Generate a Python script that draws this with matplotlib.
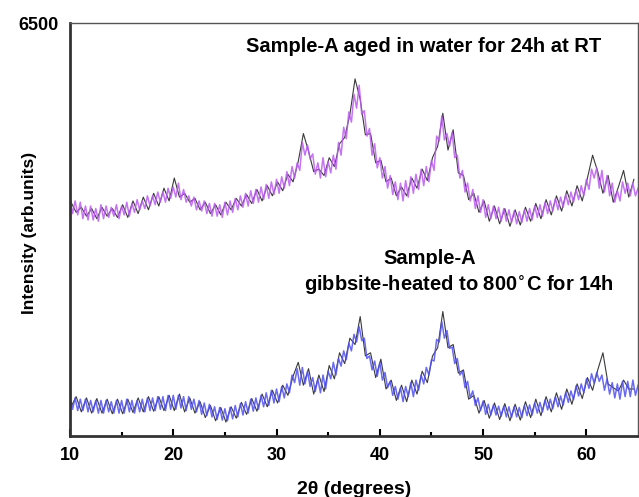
import matplotlib.pyplot as plt
import numpy as np

plt.rcParams['font.family'] = ['Liberation Sans', 'DejaVu Sans']
plt.rcParams['font.weight'] = 'bold'

# 2theta grids: coloured scans every 0.25 deg, grey scans every 0.5 deg
theta_fine = np.arange(10, 65.01, 0.25)
theta_coarse = np.arange(10.1, 65, 0.5)

# aged in water (top), coloured scan
aged_color = [
    3760, 3500, 3700, 3480, 3680, 3420, 3620, 3400, 3620, 3400, 3580, 3380,
    3640, 3420, 3620, 3440, 3600, 3460, 3640, 3420, 3620, 3480, 3680, 3460,
    3660, 3520, 3720, 3560, 3700, 3580, 3780, 3620, 3780, 3640, 3840, 3680,
    3840, 3680, 3900, 3740, 3920, 3760, 3980, 3720, 3880, 3680, 3780, 3620,
    3760, 3560, 3700, 3540, 3700, 3500, 3660, 3460, 3660, 3460, 3640, 3440,
    3680, 3480, 3700, 3520, 3740, 3560, 3780, 3600, 3820, 3620, 3860, 3660,
    3880, 3680, 3920, 3720, 3960, 3740, 4000, 3800, 4040, 3820, 4080, 3900,
    4160, 3940, 4240, 4060, 4300, 4180, 4620, 4420, 4580, 4360, 4440, 4120,
    4300, 4060, 4380, 4080, 4320, 4140, 4420, 4200, 4620, 4420, 4860, 4680,
    5100, 4940, 5380, 5160, 5520, 5060, 5120, 4720, 4840, 4420, 4600, 4220,
    4380, 4060, 4240, 3900, 4100, 3800, 4000, 3720, 3980, 3700, 4020, 3760,
    4080, 3820, 4120, 3880, 4200, 3940, 4240, 4000, 4340, 4180, 4720, 4640,
    5040, 4660, 4760, 4560, 4780, 4380, 4420, 4060, 4180, 3840, 3980, 3700,
    3880, 3580, 3780, 3520, 3720, 3440, 3640, 3420, 3620, 3420, 3600, 3380,
    3580, 3380, 3560, 3360, 3540, 3340, 3530, 3360, 3560, 3380, 3580, 3400,
    3620, 3440, 3640, 3460, 3680, 3500, 3700, 3540, 3740, 3560, 3760, 3600,
    3800, 3640, 3840, 3680, 3880, 3720, 3940, 3780, 4040, 3880, 4200, 4060,
    4220, 3900, 4180, 3840, 4100, 3780, 3980, 3680, 3860, 3700, 4000, 3820,
    3980, 3780, 3980, 3780, 3900,
]

# aged in water (top), grey scan
aged_grey = [
    3680, 3520, 3600, 3460, 3580, 3420, 3600, 3460, 3580, 3440,
    3640, 3440, 3700, 3500, 3760, 3560, 3820, 3620, 3900, 3700,
    4060, 3760, 3820, 3680, 3740, 3560, 3680, 3500, 3640, 3480,
    3680, 3560, 3740, 3620, 3800, 3660, 3880, 3700, 3940, 3780,
    4000, 3860, 4120, 4000, 4320, 4760, 4480, 4160, 4200, 4100,
    4380, 4240, 4600, 4700, 5060, 5620, 5300, 4740, 4760, 4300,
    4340, 4000, 4060, 3780, 3920, 3780, 4060, 3900, 4200, 4020,
    4380, 4560, 5080, 4500, 4820, 4140, 4100, 3720, 3820, 3520,
    3700, 3380, 3620, 3340, 3580, 3300, 3560, 3320, 3600, 3380,
    3660, 3420, 3720, 3480, 3780, 3540, 3860, 3620, 3940, 3700,
    4060, 4420, 4160, 3820, 4100, 3680, 3920, 4180, 3760, 4040,
]

# gibbsite heated to 800 C (bottom), coloured scan
heated_color = [
    620, 420, 600, 400, 580, 400, 580, 380, 560, 380, 560, 360,
    560, 360, 560, 380, 540, 360, 560, 360, 560, 360, 580, 380,
    560, 360, 560, 380, 580, 380, 600, 400, 600, 400, 620, 420,
    620, 400, 640, 420, 640, 420, 640, 440, 620, 400, 620, 420,
    580, 380, 560, 340, 520, 320, 500, 300, 460, 260, 450, 250,
    430, 240, 450, 270, 480, 300, 510, 330, 540, 360, 580, 390,
    600, 420, 640, 460, 680, 480, 720, 520, 740, 540, 780, 600,
    820, 680, 960, 840, 1060, 800, 1080, 820, 1020, 780, 920, 700,
    900, 680, 960, 740, 1020, 900, 1160, 960, 1220, 1100, 1340, 1200,
    1460, 1340, 1600, 1480, 1720, 1500, 1540, 1220, 1260, 1040, 1180, 940,
    1160, 880, 1000, 760, 860, 640, 780, 580, 760, 540, 780, 620,
    840, 620, 880, 720, 960, 820, 1080, 960, 1200, 1180, 1520, 1480,
    1800, 1540, 1660, 1380, 1400, 1140, 1220, 960, 1020, 760, 860, 600,
    710, 480, 600, 400, 550, 340, 500, 330, 490, 330, 470, 310,
    470, 300, 460, 290, 460, 300, 450, 290, 480, 320, 490, 330,
    520, 360, 530, 380, 570, 410, 580, 430, 620, 460, 630, 480,
    690, 530, 710, 570, 790, 630, 820, 680, 900, 750, 980, 830,
    1000, 860, 960, 720, 900, 660, 840, 600, 820, 580, 860, 620,
    860, 620, 880, 640, 800,
]

# gibbsite heated to 800 C (bottom), grey scan
heated_grey = [
    460, 620, 380, 600, 360, 590, 360, 580, 350, 580,
    350, 580, 370, 600, 380, 620, 390, 620, 400, 640,
    400, 660, 380, 600, 360, 540, 290, 480, 240, 450,
    220, 460, 280, 530, 340, 590, 390, 660, 460, 720,
    520, 800, 640, 940, 1160, 800, 1060, 660, 960, 700,
    1110, 900, 1310, 1140, 1540, 1440, 1880, 1260, 1310, 920,
    1210, 740, 880, 560, 800, 540, 880, 660, 1020, 840,
    1260, 1390, 1960, 1390, 1440, 990, 1040, 580, 640, 360,
    560, 280, 520, 260, 510, 240, 500, 250, 540, 290,
    580, 320, 620, 380, 680, 420, 740, 500, 820, 590,
    920, 720, 1040, 1310, 820, 760, 710, 880, 740, 740,
]

fig = plt.figure(figsize=(6.39, 4.97), dpi=100)
ax = fig.add_axes([0.1095, 0.1227, 0.889, 0.831])

ax.plot(theta_coarse, aged_grey, color='#3a3a3a', lw=0.8)
ax.plot(theta_fine, aged_color, color='#bb5cf0', lw=1.1, alpha=0.85)
ax.plot(theta_coarse, heated_grey, color='#3a3a3a', lw=0.8)
ax.plot(theta_fine, heated_color, color='#5050f0', lw=1.1, alpha=0.85)

ax.set_xlim(10, 65)
ax.set_ylim(0, 6500)
ax.set_xticks([10, 20, 30, 40, 50, 60])
ax.set_xticks([15, 25, 35, 45, 55], minor=True)
ax.set_yticks([6500])
ax.tick_params(axis='x', direction='in', length=5, width=1.5, labelsize=13, pad=8)
ax.tick_params(axis='x', which='minor', direction='in', length=3, width=1.5)
ax.tick_params(axis='y', length=0, labelsize=13, pad=8)
for lbl in ax.get_xticklabels() + ax.get_yticklabels():
    lbl.set_fontweight('bold')

for side in ['left', 'bottom']:
    ax.spines[side].set_linewidth(2)
    ax.spines[side].set_color('#333333')
for side in ['top', 'right']:
    ax.spines[side].set_linewidth(1)
    ax.spines[side].set_color('#555555')

ax.set_xlabel('2θ (degrees)', fontsize=14, fontweight='bold', labelpad=12)
fig.text(30 / 639, 1 - 233 / 497, 'Intensity (arb.units)', rotation=90,
         ha='center', va='center', fontsize=12.5, fontweight='bold')

ax.text(0.623, 0.942, 'Sample-A aged in water for 24h at RT', transform=ax.transAxes,
        ha='center', va='center', fontsize=14.5, fontweight='bold')
ax.text(0.634, 0.431, 'Sample-A', transform=ax.transAxes,
        ha='center', va='center', fontsize=14.5, fontweight='bold')
ax.text(0.685, 0.366, 'gibbsite-heated to 800$^{\\circ}$C for 14h', transform=ax.transAxes,
        ha='center', va='center', fontsize=14.5, fontweight='bold')

fig.savefig('out.png', dpi=100)
